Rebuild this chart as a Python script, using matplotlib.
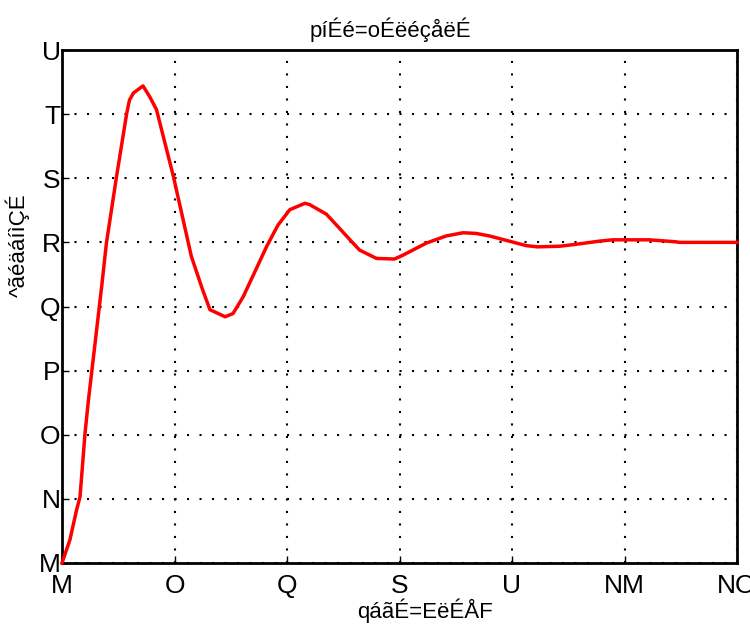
import numpy as np
import matplotlib
matplotlib.use("Agg")
import matplotlib.pyplot as plt

# step response samples
t = [0.0, 0.14, 0.26, 0.32, 0.41, 0.47, 0.705, 0.79, 0.97, 1.15, 1.2, 1.27,
     1.44, 1.56, 1.68, 1.98, 2.30, 2.5, 2.63, 2.9, 3.04, 3.22, 3.46, 3.64,
     3.84, 4.05, 4.32, 4.4, 4.7, 4.88, 5.12, 5.29, 5.59, 5.91, 6.06, 6.48,
     6.83, 7.13, 7.36, 7.6, 7.99, 8.25, 8.45, 8.85, 9.14, 9.56, 9.79, 10.44,
     10.9, 10.98, 12.0]
y = [0.0, 0.36, 0.83, 1.03, 2.03, 2.54, 4.31, 4.99, 6.03, 7.01, 7.22, 7.33,
     7.44, 7.27, 7.07, 6.03, 4.78, 4.26, 3.95, 3.84, 3.89, 4.15, 4.6, 4.94,
     5.27, 5.51, 5.61, 5.59, 5.44, 5.27, 5.04, 4.88, 4.75, 4.74, 4.8, 4.99,
     5.10, 5.15, 5.14, 5.10, 5.01, 4.95, 4.93, 4.94, 4.97, 5.02, 5.04, 5.04,
     5.01, 5.0, 5.0]

xticks = [0, 2, 4, 6, 8, 10, 12]
xticklabels = ["M", "O", "Q", "S", "U", "NM", "NO"]
yticks = [0, 1, 2, 3, 4, 5, 6, 7, 8]
yticklabels = ["M", "N", "O", "P", "Q", "R", "S", "T", "U"]

title = "píÉé=oÉëéçåëÉ"
xlabel = "qáãÉ=EëÉÅF"
ylabel = "^ãéäáíìÇÉ"

plt.rcParams["font.family"] = ["Liberation Sans", "DejaVu Sans"]

fig = plt.figure(figsize=(7.5, 6.27), dpi=100)
ax = fig.add_axes([62 / 750, 64 / 627, 675 / 750, 513 / 627])

ax.plot(t, y, color="red", lw=2.5, clip_on=False, zorder=3)

ax.set_xlim(0, 12)
ax.set_ylim(0, 8)
ax.set_xticks(xticks)
ax.set_xticklabels(xticklabels)
ax.set_yticks(yticks)
ax.set_yticklabels(yticklabels)
ax.tick_params(direction="in", length=5, width=1, labelsize=19)
ax.tick_params(axis="x", pad=8)
ax.tick_params(axis="y", pad=1)

ax.grid(True, color="black", linestyle=(0, (1, 5)), linewidth=1.5)
for s in ax.spines.values():
    s.set_linewidth(2)

ax.set_title(title, fontsize=16, x=0.486, pad=9)
ax.set_xlabel(xlabel, fontsize=16)
ax.xaxis.set_label_coords(0.538, -0.07)
ax.set_ylabel(ylabel, fontsize=16)
ax.yaxis.set_label_coords(-0.047, 0.62)

fig.savefig("out.png", dpi=100)
